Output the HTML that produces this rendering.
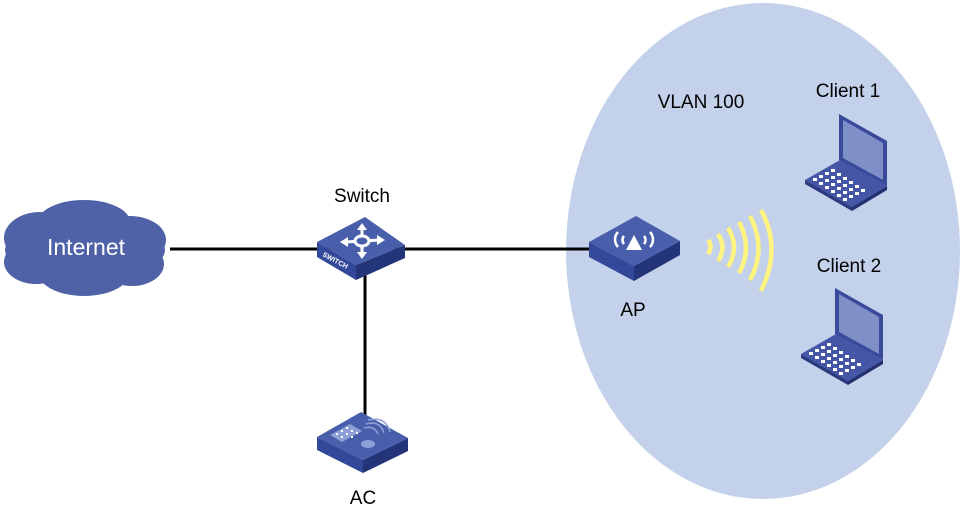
<!DOCTYPE html>
<html><head><meta charset="utf-8"><style>
html,body{margin:0;padding:0;background:#fff;width:964px;height:516px;overflow:hidden}
text{font-family:"Liberation Sans",Arial,sans-serif}
</style></head><body>
<svg width="964" height="516" viewBox="0 0 964 516" xmlns="http://www.w3.org/2000/svg">
<defs>
<g id="laptop">
  <polygon points="34,0 82,27 82,72 34,46" fill="#3a4a9a"/>
  <polygon points="38,6 78,29 78,66 38,44" fill="#7f8fc8"/>
  <polygon points="0,66 35,46 82,72 47,93" fill="#4556a6"/>
  <polygon points="0,66 47,93 47,97 0,70" fill="#2c3a80"/>
  <polygon points="47,93 82,72 82,76 47,97" fill="#23306e"/>
  <g fill="#fff">
    <rect x="8" y="64" width="4" height="3"/><rect x="14" y="61" width="4" height="3"/><rect x="20" y="58" width="4" height="3"/><rect x="26" y="55" width="4" height="3"/>
    <rect x="14" y="68" width="4" height="3"/><rect x="20" y="65" width="4" height="3"/><rect x="26" y="62" width="4" height="3"/><rect x="32" y="59" width="4" height="3"/>
    <rect x="20" y="72" width="4" height="3"/><rect x="26" y="69" width="4" height="3"/><rect x="32" y="66" width="4" height="3"/><rect x="38" y="63" width="4" height="3"/>
    <rect x="26" y="76" width="4" height="3"/><rect x="32" y="73" width="4" height="3"/><rect x="38" y="70" width="4" height="3"/><rect x="44" y="67" width="4" height="3"/>
    <rect x="32" y="80" width="4" height="3"/><rect x="38" y="77" width="4" height="3"/><rect x="44" y="74" width="4" height="3"/><rect x="50" y="71" width="4" height="3"/>
    <rect x="38" y="84" width="4" height="3"/><rect x="44" y="81" width="4" height="3"/><rect x="50" y="78" width="4" height="3"/><rect x="56" y="75" width="4" height="3"/>
  </g>
</g>
</defs>
<ellipse cx="763" cy="251" rx="197" ry="248" fill="#c3d1ea"/>
<line x1="170" y1="249" x2="595" y2="249" stroke="#000" stroke-width="3"/>
<line x1="365" y1="265" x2="365" y2="418" stroke="#000" stroke-width="3"/>
<g fill="#4f62a7">
  <ellipse cx="85" cy="250" rx="80" ry="30"/>
  <ellipse cx="40" cy="238" rx="36" ry="26"/>
  <ellipse cx="84" cy="222" rx="46" ry="22"/>
  <ellipse cx="130" cy="240" rx="36" ry="24"/>
  <ellipse cx="84" cy="272" rx="46" ry="24"/>
  <ellipse cx="36" cy="262" rx="32" ry="22"/>
  <ellipse cx="132" cy="264" rx="32" ry="22"/>
</g>
<text x="86" y="255" font-size="23" fill="#fff" text-anchor="middle">Internet</text>
<polygon points="317,242 356,265 356,280 317,257" fill="#34489a"/>
<polygon points="356,265 405,245 405,258 356,280" fill="#243478"/>
<polygon points="317,242 365,217 405,245 356,265" fill="#4a5fab"/>
<g stroke="#fff" stroke-width="3" fill="none">
  <line x1="345" y1="242" x2="380" y2="240"/><line x1="362" y1="228" x2="362" y2="254"/>
</g>
<ellipse cx="362" cy="241" rx="7" ry="5" fill="#4a5fab" stroke="#fff" stroke-width="3"/>
<g fill="#fff"><polygon points="340,242 348,237 348,247"/><polygon points="385,240 377,235 377,245"/><polygon points="362,223 357,230 367,230"/><polygon points="362,259 357,252 367,252"/></g>
<text x="0" y="0" font-size="7" font-weight="bold" fill="#fff" transform="translate(322,256) rotate(28)">SWITCH</text>
<text x="362" y="202" font-size="19" text-anchor="middle">Switch</text>
<polygon points="589,242 634,266 634,281 589,257" fill="#34489a"/>
<polygon points="634,266 680,241 680,255 634,281" fill="#243478"/>
<polygon points="589,242 636,216 680,241 634,266" fill="#4a5fab"/>
<polygon points="634,235 626,250 642,250" fill="#fff"/>
<g stroke="#fff" stroke-width="2.5" fill="none">
  <path d="M624,236 a6,6 0 0 0 0,8"/><path d="M644,236 a6,6 0 0 1 0,8"/>
  <path d="M618,232 a11,11 0 0 0 0,15"/><path d="M650,232 a11,11 0 0 1 0,15"/>
</g>
<g stroke="#fff47f" stroke-width="4.5" fill="none">
  <path d="M708,240 q5,6 0,14"/>
  <path d="M718,234 q9,13 0,27"/>
  <path d="M728,228 q12,19 0,39"/>
  <path d="M739,222 q14,26 0,51"/>
  <path d="M750,216 q17,33 0,64"/>
  <path d="M761,210 q21,38 0,81"/>
</g>
<text x="633" y="316" font-size="19" text-anchor="middle">AP</text>
<polygon points="317,437 363,460 363,473 317,450" fill="#34489a"/>
<polygon points="363,460 408,438 408,451 363,473" fill="#243478"/>
<polygon points="317,437 361,412 408,438 363,460" fill="#4a5fab"/>
<polygon points="330,435 350,424 362,431 342,442" fill="#8fa0d8"/>
<g fill="#fff"><rect x="336" y="433" width="2" height="2"/><rect x="341" y="430" width="2" height="2"/><rect x="346" y="427" width="2" height="2"/><rect x="341" y="436" width="2" height="2"/><rect x="346" y="433" width="2" height="2"/><rect x="351" y="430" width="2" height="2"/><rect x="351" y="436" width="2" height="2"/><rect x="356" y="432" width="2" height="2"/></g>
<ellipse cx="368" cy="444" rx="7" ry="4" fill="#8fa0d8"/>
<g stroke="#8fa0d8" stroke-width="1.5" fill="none"><path d="M364,428 q10,-3 14,6"/><path d="M366,424 q14,-4 18,9"/><path d="M368,420 q18,-4 22,12"/></g>
<text x="363" y="504" font-size="19" text-anchor="middle">AC</text>
<text x="701" y="108" font-size="19" text-anchor="middle">VLAN 100</text>
<text x="848" y="97" font-size="19" text-anchor="middle">Client 1</text>
<text x="849" y="272" font-size="19" text-anchor="middle">Client 2</text>
<use href="#laptop" x="805" y="114"/>
<use href="#laptop" x="801" y="288"/>
</svg>
</body></html>
